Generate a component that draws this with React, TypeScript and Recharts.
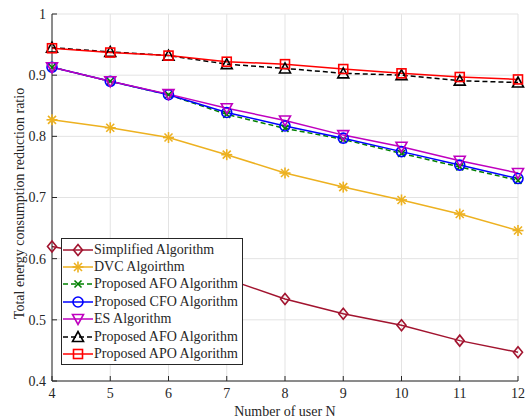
import React from 'react';
import { LineChart, Line, XAxis, YAxis, CartesianGrid, Legend } from 'recharts';

// number of users
const userCounts = [4, 5, 6, 7, 8, 9, 10, 11, 12];
const yTicks = [0.4, 0.5, 0.6, 0.7, 0.8, 0.9, 1];

const simplified = [0.62, 0.602, 0.585, 0.567, 0.534, 0.51, 0.491, 0.466, 0.447];
const dvc = [0.827, 0.814, 0.798, 0.77, 0.74, 0.717, 0.696, 0.673, 0.646];
const afoGreen = [0.913, 0.89, 0.868, 0.836, 0.813, 0.795, 0.772, 0.75, 0.728];
const cfo = [0.913, 0.89, 0.868, 0.839, 0.817, 0.797, 0.775, 0.753, 0.731];
const es = [0.913, 0.89, 0.869, 0.846, 0.826, 0.802, 0.783, 0.76, 0.74];
const afoBlack = [0.945, 0.938, 0.932, 0.918, 0.911, 0.903, 0.9, 0.891, 0.888];
const apo = [0.944, 0.937, 0.932, 0.922, 0.918, 0.91, 0.903, 0.897, 0.893];

const FONT = '"Liberation Serif", "Times New Roman", serif';
const AXIS = '#262626';
const FS = 14;

type Shape = 'diamond' | 'asterisk' | 'x' | 'circle' | 'down' | 'up' | 'square';

interface SeriesDef {
    key: string;
    name: string;
    values: number[];
    color: string;
    shape: Shape;
    dashed?: boolean;
}

const SERIES: SeriesDef[] = [
    { key: 'simplified', name: 'Simplified Algorithm', values: simplified, color: '#A2142F', shape: 'diamond' },
    { key: 'dvc', name: 'DVC Algoirthm', values: dvc, color: '#EDB120', shape: 'asterisk' },
    { key: 'afoGreen', name: 'Proposed AFO Algorithm', values: afoGreen, color: '#008000', shape: 'x', dashed: true },
    { key: 'cfo', name: 'Proposed CFO Algorithm', values: cfo, color: '#0000FF', shape: 'circle' },
    { key: 'es', name: 'ES Algorithm', values: es, color: '#BF00BF', shape: 'down' },
    { key: 'afoBlack', name: 'Proposed AFO Algorithm', values: afoBlack, color: '#000000', shape: 'up', dashed: true },
    { key: 'apo', name: 'Proposed APO Algorithm', values: apo, color: '#FF0000', shape: 'square' },
];

const chartData = userCounts.map((n, i) => {
    const row: { [k: string]: number } = { n };
    SERIES.forEach((s) => { row[s.key] = s.values[i]; });
    return row;
});

const Marker = ({ shape, color, cx, cy }: { shape: Shape; color: string; cx: number; cy: number }) => {
    const common = { stroke: color, strokeWidth: 1.6, fill: 'none' };
    switch (shape) {
        case 'diamond':
            return <polygon {...common} points={`${cx},${cy - 5.5} ${cx + 4.5},${cy} ${cx},${cy + 5.5} ${cx - 4.5},${cy}`} />;
        case 'asterisk':
            return (
                <g {...common}>
                    <line x1={cx - 5.5} y1={cy} x2={cx + 5.5} y2={cy} />
                    <line x1={cx} y1={cy - 5.5} x2={cx} y2={cy + 5.5} />
                    <line x1={cx - 4} y1={cy - 4} x2={cx + 4} y2={cy + 4} />
                    <line x1={cx - 4} y1={cy + 4} x2={cx + 4} y2={cy - 4} />
                </g>
            );
        case 'x':
            return (
                <g {...common}>
                    <line x1={cx - 3.5} y1={cy - 3.5} x2={cx + 3.5} y2={cy + 3.5} />
                    <line x1={cx - 3.5} y1={cy + 3.5} x2={cx + 3.5} y2={cy - 3.5} />
                </g>
            );
        case 'circle':
            return <circle {...common} cx={cx} cy={cy} r={5} />;
        case 'down':
            return <polygon {...common} points={`${cx - 5.5},${cy - 4.5} ${cx + 5.5},${cy - 4.5} ${cx},${cy + 5.5}`} />;
        case 'up':
            return <polygon {...common} points={`${cx - 5.5},${cy + 4.5} ${cx + 5.5},${cy + 4.5} ${cx},${cy - 5.5}`} />;
        case 'square':
        default:
            return <rect {...common} x={cx - 4.5} y={cy - 4.5} width={9} height={9} />;
    }
};

const makeDot = (s: SeriesDef) => (props: any) => (
    <g key={`${s.key}-dot-${props.index}`}>
        <Marker shape={s.shape} color={s.color} cx={props.cx} cy={props.cy} />
    </g>
);

const LegendBox = () => (
    <div
        style={{
            background: '#fff',
            border: `1px solid ${AXIS}`,
            padding: '2px 4px 1px 1px',
            fontFamily: FONT,
            fontSize: FS,
            color: AXIS,
        }}
    >
        {SERIES.map((s) => (
            <div key={s.key} style={{ display: 'flex', alignItems: 'center', height: 17.4, whiteSpace: 'nowrap' }}>
                <svg width={31} height={14} style={{ marginRight: 0 }}>
                    <line x1={0} y1={7} x2={30} y2={7} stroke={s.color} strokeWidth={1.5}
                        strokeDasharray={s.dashed ? '5 3' : undefined} />
                    <Marker shape={s.shape} color={s.color} cx={15} cy={7} />
                </svg>
                <span>{s.name}</span>
            </div>
        ))}
    </div>
);

const XLabel = ({ viewBox }: any) => (
    <text x={viewBox.x + viewBox.width / 2} y={viewBox.y + 35} textAnchor="middle"
        fontFamily={FONT} fontSize={FS} fill={AXIS}>
        Number of user N
    </text>
);

const YLabel = ({ viewBox }: any) => {
    const x = viewBox.x + 19;
    const y = viewBox.y + viewBox.height / 2 + 6;
    return (
        <text x={x} y={y} transform={`rotate(-90, ${x}, ${y})`} textAnchor="middle"
            dominantBaseline="central" fontFamily={FONT} fontSize={FS} fill={AXIS}>
            Total energy consumption reduction ratio
        </text>
    );
};

const tickStyle = { fill: AXIS, fontSize: FS, fontFamily: FONT };

const App: React.FC = () => {
    return (
        <div style={{ position: 'absolute', left: 0, top: 0, background: '#fff' }}>
            <LineChart width={532} height={419} data={chartData} margin={{ top: 14, right: 14, bottom: 0, left: 0 }}>
                <CartesianGrid stroke="#e3e3e3" strokeWidth={1} />
                <XAxis dataKey="n" type="number" domain={[4, 12]} ticks={userCounts} height={38}
                    tickSize={-5} tickMargin={12} stroke={AXIS} tick={tickStyle} label={<XLabel />} />
                <XAxis xAxisId="top" orientation="top" dataKey="n" type="number" domain={[4, 12]}
                    ticks={userCounts} height={0} tickSize={-5} tick={false} stroke={AXIS} allowDataOverflow />
                <YAxis type="number" domain={[0.4, 1]} ticks={yTicks} width={52} tickSize={-5} tickMargin={11}
                    stroke={AXIS} tick={tickStyle} label={<YLabel />} />
                <YAxis yAxisId="right" orientation="right" type="number" domain={[0.4, 1]} ticks={yTicks}
                    width={0} tickSize={-5} tick={false} stroke={AXIS} allowDataOverflow />
                {SERIES.map((s) => (
                    <Line
                        key={s.key}
                        dataKey={s.key}
                        name={s.name}
                        type="linear"
                        stroke={s.color}
                        strokeWidth={1.5}
                        strokeDasharray={s.dashed ? '5 3' : undefined}
                        dot={makeDot(s)}
                        activeDot={false}
                        isAnimationActive={false}
                    />
                ))}
                <Legend layout="vertical" align="center" verticalAlign="middle" content={<LegendBox />}
                    wrapperStyle={{ left: 61, top: 238, width: 'auto', height: 'auto' }} />
            </LineChart>
        </div>
    );
};

export default App;
